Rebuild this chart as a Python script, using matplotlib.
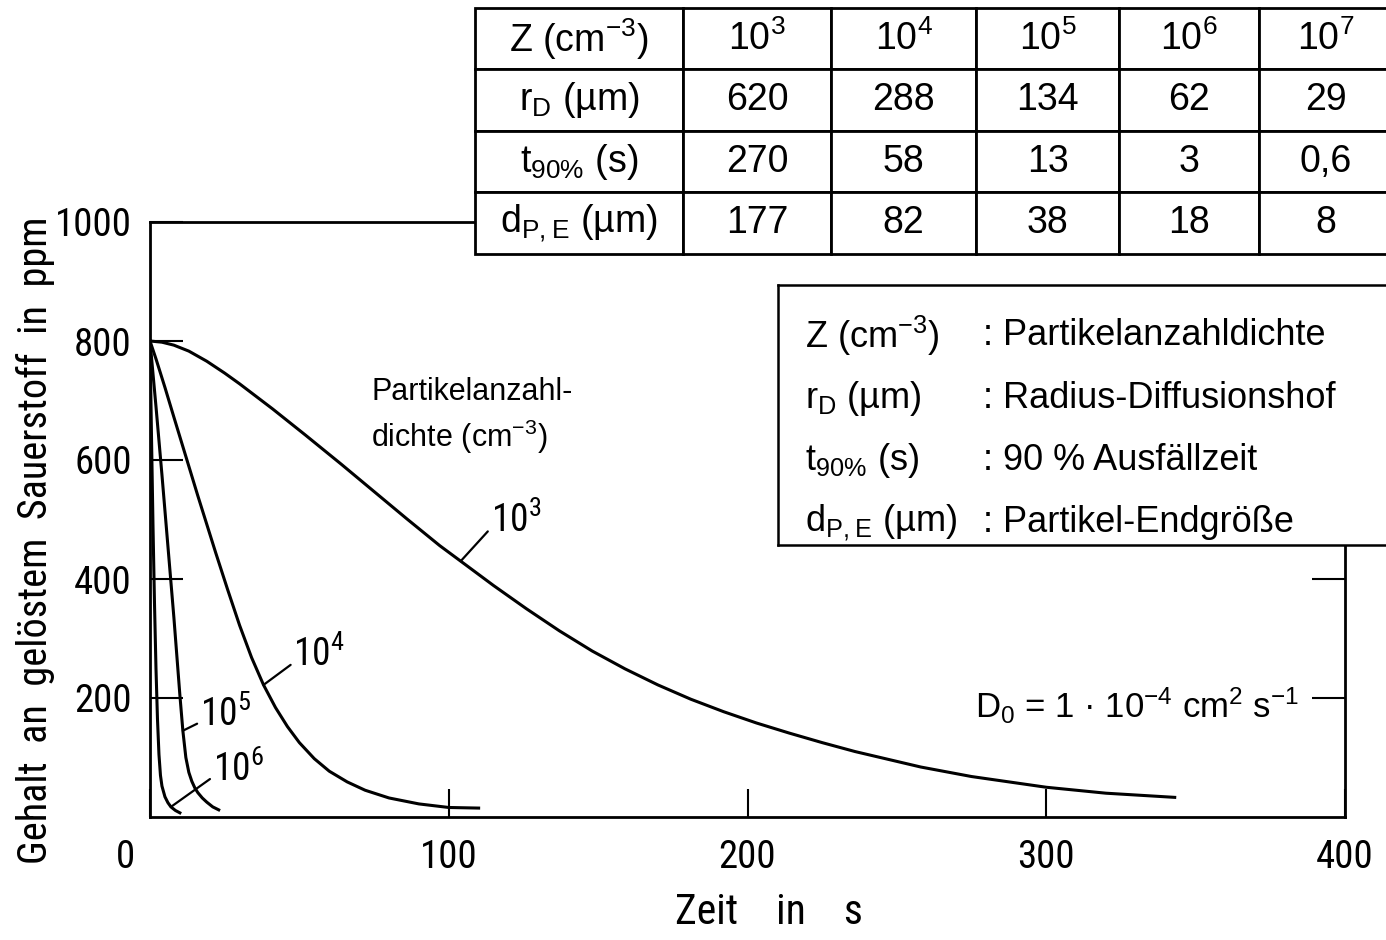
import numpy as np
import matplotlib
matplotlib.use("Agg")
import matplotlib.pyplot as plt

plt.rcParams['font.family'] = ['Liberation Sans', 'DejaVu Sans']
plt.rcParams['mathtext.default'] = 'regular'
# schmale Schrift fuer Achsen, falls vorhanden
NARROW = ['Roboto Condensed', 'Noto Sans ExtraCondensed', 'Noto Sans Condensed',
          'DejaVu Sans Condensed', 'Liberation Sans Narrow', 'Noto Sans', 'DejaVu Sans']
NK = dict(family=NARROW, stretch='condensed')

# Sauerstoffgehalt (ppm) ueber der Zeit (s), je Partikelanzahldichte
t_1e3 = [0, 4, 8, 13, 19, 25, 30, 41, 52, 64, 75, 86, 97, 104, 115, 126, 137, 148, 159, 170,
         181, 192, 203, 214, 225, 236, 247, 258, 275, 300, 320, 343]
c_1e3 = [800, 798, 793, 783, 766, 746, 728, 686, 642, 593, 547, 501, 456, 430, 389, 350, 313, 279, 249, 222,
         198, 177, 158, 141, 125, 110, 97, 84, 68, 50, 40, 33]

t_1e4 = [0, 2, 5, 8, 12, 16, 19, 22, 26, 30, 34, 38, 42, 46, 50, 55, 60, 66, 72, 80, 90, 100, 110]
c_1e4 = [800, 770, 722, 672, 606, 540, 492, 444, 382, 322, 268, 222, 184, 152, 125, 98, 77, 59, 45, 32, 22, 16, 15]

t_1e5 = [0, 2, 4, 6, 8, 10, 11, 12, 13, 14, 15, 16, 17.5, 19, 21, 23]
c_1e5 = [800, 690, 575, 455, 335, 205, 145, 100, 75, 60, 49, 41, 32, 25, 17, 12]

t_1e6 = [0, 0.5, 1, 1.5, 2, 2.5, 3, 3.5, 4, 5, 6, 7, 8.5, 10]
c_1e6 = [800, 640, 490, 360, 250, 165, 105, 70, 52, 34, 24, 17, 11, 7]

# Tabelle
z_labels = ['$10^{3}$', '$10^{4}$', '$10^{5}$', '$10^{6}$', '$10^{7}$']
r_D = ['620', '288', '134', '62', '29']
t_90 = ['270', '58', '13', '3', '0,6']
d_PE = ['177', '82', '38', '18', '8']
row_heads = ['Z (cm$^{-3}$)', 'r$_{D}$ (µm)', 't$_{90\\%}$ (s)', 'd$_{P,E}$ (µm)']
row_desc = [': Partikelanzahldichte', ': Radius-Diffusionshof',
            ': 90 % Ausfällzeit', ': Partikel-Endgröße']

fig = plt.figure(figsize=(13.86, 9.4), dpi=100)
ax = fig.add_axes([150/1386, 1-817/940, 1195/1386, 595/940])

for t, c in [(t_1e3, c_1e3), (t_1e4, c_1e4), (t_1e5, c_1e5), (t_1e6, c_1e6)]:
    ax.plot(t, c, color='black', lw=2.2, solid_joinstyle='round')

ax.set_xlim(0, 400)
ax.set_ylim(0, 1000)
for s in ax.spines.values():
    s.set_linewidth(2)
ax.spines['right'].set_bounds(0, 460)

ax.set_xticks([0, 100, 200, 300, 400])
ax.set_xticklabels(['', '100', '200', '300', '400'])
ax.set_yticks([200, 400, 600, 800, 1000])
ax.set_yticklabels(['200', '400', '600', '800', '1000'])
ax.tick_params(axis='y', direction='in', length=24, width=1.5, right=True, pad=13)
ax.tick_params(axis='x', direction='in', length=20, width=1.5, pad=16)
for lab in ax.get_xticklabels() + ax.get_yticklabels():
    lab.set_fontfamily(NARROW)
    lab.set_fontstretch('condensed')
    lab.set_fontsize(28)
ax.annotate('0', xy=(0, 0), xytext=(-18, -16), textcoords='offset points',
            ha='center', va='top', fontsize=28, **NK)

fig.text(35/1386, 1-540/940, 'Gehalt  an  gelöstem  Sauerstoff  in  ppm',
         rotation=90, ha='center', va='center', fontsize=29, **NK)
fig.text(769/1386, 1-912/940, 'Zeit    in    s', ha='center', va='center',
         fontsize=30, **NK)

# Kurvenbeschriftungen
lab_kw = dict(ha='left', va='center', fontsize=27, **NK,
              arrowprops=dict(arrowstyle='-', lw=1.6, color='black',
                              shrinkA=0, shrinkB=0, relpos=(0, 0.3)))
ax.annotate('$10^{3}$', xy=(t_1e3[13], c_1e3[13]), xytext=(114, 498), **lab_kw)
ax.annotate('$10^{4}$', xy=(t_1e4[11], c_1e4[11]), xytext=(48, 272), **lab_kw)
ax.annotate('$10^{5}$', xy=(t_1e5[6], c_1e5[6]), xytext=(16.7, 172), **lab_kw)
ax.annotate('$10^{6}$', xy=(t_1e6[11], c_1e6[11]), xytext=(21, 80), **lab_kw)

ax.text(74, 673, 'Partikelanzahl-\ndichte (cm$^{-3}$)', ha='left', va='center',
        fontsize=22, linespacing=1.35)
ax.text(276, 187, 'D$_{0}$ = 1 · 10$^{-4}$ cm$^{2}$ s$^{-1}$', ha='left', va='center',
        fontsize=25)

# Tabelle oben rechts
tax = fig.add_axes([475/1386, 1-254/940, 917/1386, 246/940])
tax.axis('off')
cells = [[row_heads[0]] + z_labels,
         [row_heads[1]] + r_D,
         [row_heads[2]] + t_90,
         [row_heads[3]] + d_PE]
col_px = np.array([208, 148, 145, 143, 140, 133])
tbl = tax.table(cellText=cells, colWidths=list(col_px / col_px.sum()),
                bbox=[0, 0, 1, 1], cellLoc='center')
tbl.auto_set_font_size(False)
tbl.set_fontsize(27)
for cell in tbl.get_celld().values():
    cell.set_linewidth(2)
    cell.set_edgecolor('black')

# Legendenkasten
lax = fig.add_axes([778/1386, 1-545/940, 614/1386, 260/940])
lax.set_xlim(0, 1)
lax.set_ylim(0, 1)
lax.set_xticks([])
lax.set_yticks([])
for s in lax.spines.values():
    s.set_linewidth(1.8)
for i, (h, d) in enumerate(zip(row_heads, row_desc)):
    y = 0.805 - i * 0.24
    lax.text(0.044, y, h, ha='left', va='center', fontsize=26)
    lax.text(0.334, y, d, ha='left', va='center', fontsize=26)

fig.savefig('out.png', dpi=100)
